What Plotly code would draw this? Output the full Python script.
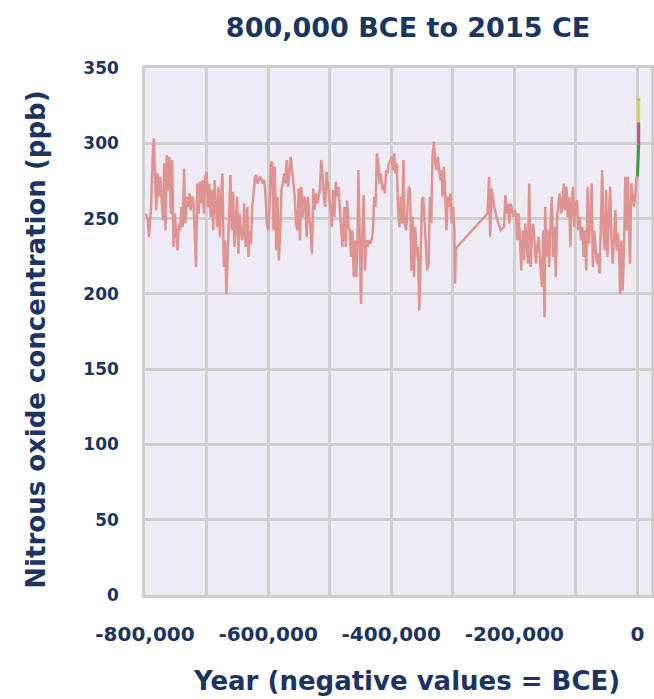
import plotly.graph_objects as go

# Ice-core nitrous oxide record (year, ppb)
ice_year = [
    -798900, -795700, -793500, -790300, -787100, -785500, -783900, -781700, -779600, -777400,
    -775300, -773100, -770900, -768800, -766600, -764500, -762300, -760200, -758000, -755900,
    -753700, -751600, -749400, -747300, -745100, -743000, -740800, -738700, -736500, -734400,
    -732200, -730100, -727900, -725800, -723600, -721500, -719300, -717100, -715000, -712800,
    -710700, -708500, -706400, -704200, -702100, -699900, -697800, -695600, -693500, -691300,
    -689200, -687000, -684900, -682700, -680600, -678400, -676300, -674100, -672000, -669800,
    -667700, -665500, -663300, -661200, -659000, -656900, -654700, -652600, -650400, -648300,
    -646100, -644000, -641800, -639700, -639100, -636400, -633700, -632100, -630000, -627800,
    -625700, -623000, -621400, -619200, -617100, -614900, -612700, -610600, -608400, -606300,
    -604100, -602000, -599800, -597700, -595500, -593400, -591200, -589100, -586900, -584800,
    -582600, -580500, -578300, -576200, -574000, -571900, -569700, -567600, -565400, -563300,
    -561100, -559000, -556800, -554600, -552500, -550300, -548200, -546000, -543900, -541700,
    -539600, -537400, -535300, -533100, -531000, -528800, -526700, -524500, -522400, -520200,
    -518100, -515900, -513800, -511600, -509500, -507300, -505100, -503000, -500800, -498700,
    -496500, -494400, -492200, -490100, -487900, -485800, -483600, -481500, -479300, -478100,
    -476000, -473800, -471700, -469500, -467400, -465200, -463100, -460900, -458800, -456600,
    -454500, -453400, -451200, -449100, -446900, -444800, -442600, -440500, -438300, -436200,
    -434000, -431900, -429700, -427600, -425400, -423300, -421100, -419000, -416800, -414700,
    -412500, -410400, -408200, -406100, -403900, -401800, -399600, -397400, -395300, -393100,
    -391000, -388800, -386700, -384500, -382400, -380200, -378100, -375900, -373800, -371600,
    -369500, -367300, -365200, -363000, -360900, -358700, -356600, -354400, -352300, -350100,
    -348000, -345800, -343600, -341500, -339300, -337200, -335000, -332900, -330700, -328600,
    -326400, -324300, -322100, -320000, -317800, -316700, -314600, -312400, -310300, -308100,
    -306000, -303800, -301700, -299500, -297400, -296300, -295200, -293100, -243600, -240900,
    -239300, -237100, -235000, -232800, -227400, -222100, -216700, -214500, -212400, -210200,
    -208100, -205900, -203800, -201600, -199500, -197300, -195200, -193000, -190900, -188700,
    -186500, -184400, -182200, -180100, -177900, -175800, -173600, -171500, -169300, -167200,
    -165000, -162900, -160700, -158600, -156400, -155200, -153100, -150900, -149900, -147700,
    -145600, -143400, -141300, -139100, -137000, -134800, -132700, -130500, -128300, -126200,
    -124000, -121900, -119700, -117600, -115400, -113300, -111100, -109000, -106800, -104700,
    -102500, -100400, -98200, -96100, -93900, -91800, -89600, -87500, -85300, -83200,
    -81000, -78800, -76700, -74500, -72400, -70200, -68100, -65900, -63800, -61600,
    -59500, -57300, -55200, -53000, -50900, -48700, -46600, -44400, -42300, -40100,
    -38000, -35800, -33700, -31500, -29400, -28300, -26100, -24000, -21800, -19700,
    -17500, -15400, -14300, -12100, -10000, -7800, -5700, -3500, -1400, 0,
]
ice_ppb = [
    253.3, 250.0, 237.8, 255.6, 295.6, 303.3, 280.0, 255.6, 280.0, 264.5,
    277.8, 257.8, 248.9, 286.7, 242.2, 292.2, 268.9, 291.1, 253.3, 288.9,
    231.1, 253.3, 242.2, 228.9, 246.7, 242.2, 257.8, 244.5, 283.3, 246.7,
    264.5, 257.8, 266.7, 255.6, 264.5, 262.2, 242.2, 217.8, 273.3, 253.3,
    274.5, 260.0, 275.6, 253.3, 277.8, 281.1, 257.8, 273.3, 251.1, 268.9,
    242.2, 275.6, 257.8, 244.5, 271.1, 237.8, 264.5, 280.0, 217.8, 235.6,
    200.0, 224.5, 257.8, 278.9, 242.2, 267.8, 231.1, 251.1, 264.5, 226.7,
    253.3, 242.2, 235.6, 246.7, 260.0, 231.1, 257.8, 224.5, 242.2, 233.3,
    257.8, 268.9, 277.8, 278.9, 273.3, 275.6, 277.8, 275.6, 273.3, 275.6,
    264.5, 246.7, 242.2, 257.8, 286.7, 287.8, 242.2, 284.5, 228.9, 264.5,
    222.2, 240.0, 268.9, 273.3, 280.0, 273.3, 288.9, 271.1, 280.0, 291.1,
    282.2, 273.3, 264.5, 246.7, 242.2, 270.0, 235.6, 271.1, 251.1, 264.5,
    262.2, 237.8, 264.5, 251.1, 242.2, 226.7, 270.0, 255.6, 266.7, 260.0,
    264.5, 268.9, 288.9, 280.0, 264.5, 257.8, 281.1, 274.5, 264.5, 255.6,
    244.3, 268.9, 251.1, 274.5, 264.5, 271.1, 257.8, 246.7, 231.1, 242.2,
    257.8, 231.1, 262.2, 244.5, 242.2, 224.5, 242.2, 211.1, 235.6, 211.1,
    242.2, 282.2, 228.9, 193.3, 242.2, 265.6, 215.6, 235.6, 231.1, 235.6,
    233.4, 235.6, 242.2, 264.5, 257.8, 293.3, 286.7, 273.3, 280.0, 268.9,
    273.3, 266.7, 282.2, 280.0, 286.7, 287.8, 291.1, 282.2, 293.3, 280.0,
    286.7, 255.6, 244.5, 264.5, 246.7, 288.9, 246.7, 242.2, 255.6, 271.1,
    268.9, 215.6, 251.1, 211.1, 244.5, 224.5, 231.1, 188.9, 220.0, 262.2,
    264.5, 242.2, 231.1, 215.6, 220.0, 264.5, 246.7, 291.1, 301.1, 286.7,
    282.2, 291.1, 284.5, 275.6, 282.2, 264.5, 284.5, 268.9, 242.2, 264.5,
    257.8, 266.7, 246.7, 257.8, 242.2, 206.7, 228.9, 231.1, 253.3, 277.8,
    237.8, 270.0, 264.5, 257.8, 248.9, 242.2, 244.5, 265.6, 253.3, 260.0,
    246.7, 260.0, 255.6, 251.1, 255.6, 253.3, 235.6, 253.3, 235.6, 215.6,
    242.2, 222.2, 246.7, 235.6, 220.0, 273.3, 217.8, 237.8, 246.7, 235.6,
    220.0, 231.1, 237.8, 224.5, 211.1, 204.5, 242.2, 184.5, 257.8, 224.5,
    242.2, 217.8, 246.7, 264.5, 224.5, 244.5, 211.1, 251.1, 260.0, 266.7,
    253.3, 257.8, 273.3, 255.6, 271.1, 251.1, 264.5, 231.1, 260.0, 271.1,
    244.5, 260.0, 262.2, 242.2, 251.1, 235.6, 244.5, 224.5, 242.2, 215.6,
    271.1, 233.3, 246.7, 273.3, 217.8, 242.2, 231.1, 220.0, 226.7, 213.4,
    244.5, 282.2, 240.0, 228.9, 268.9, 224.5, 248.9, 271.1, 237.8, 220.0,
    237.8, 255.6, 228.9, 240.0, 222.2, 200.0, 235.6, 202.2, 231.1, 277.8,
    242.2, 277.8, 253.3, 220.0, 273.3, 266.7, 257.8, 266.7, 277.8, 275.6,
]

# Recent instrumental / firn records (year, ppb)
rec_a_year = [1, 1990]
rec_a_ppb = [278, 299]
rec_b_year = [1990, 2004]
rec_b_ppb = [299, 314]
rec_c_year = [2004, 2014]
rec_c_ppb = [314, 328]
rec_d_year = [2014, 2015]
rec_d_ppb = [328, 330]

x_ticks = [-800000, -700000, -600000, -500000, -400000, -300000, -200000, -100000, 0]
x_labels = ["-800,000", "", "-600,000", "", "-400,000", "", "-200,000", "", "0"]
y_ticks = [0, 50, 100, 150, 200, 250, 300, 350]

NAVY = "#1b3462"
GRID = "#cfcfcf"
FONT = "DejaVu Sans"

fig = go.Figure()
fig.add_trace(go.Scatter(x=ice_year, y=ice_ppb, mode="lines",
                         line=dict(color="#e09492", width=2.5), hoverinfo="skip"))
for xs, ys, col in [(rec_a_year, rec_a_ppb, "#3d9a3d"),
                    (rec_b_year, rec_b_ppb, "#b5578c"),
                    (rec_c_year, rec_c_ppb, "#c9dc3a"),
                    (rec_d_year, rec_d_ppb, "#f0a838")]:
    fig.add_trace(go.Scatter(x=xs, y=ys, mode="lines",
                             line=dict(color=col, width=3), hoverinfo="skip"))

fig.update_layout(
    width=654, height=699,
    margin=dict(l=145, r=0, t=68, b=104),
    paper_bgcolor="white", plot_bgcolor="#eeebf5",
    showlegend=False,
    title=dict(text="800,000 BCE to 2015 CE", x=408 / 654, xanchor="center",
               y=1 - 28 / 699, yanchor="middle", yref="container",
               font=dict(family=FONT, size=27, color=NAVY, weight="bold")),
    xaxis=dict(range=[-800000, 22000], tickmode="array", tickvals=x_ticks, ticktext=x_labels,
               showgrid=True, gridcolor=GRID, gridwidth=2.5, zeroline=False,
               showline=True, linecolor=GRID, linewidth=2.5, mirror=True,
               ticks="", ticklabelstandoff=19,
               tickfont=dict(family=FONT, size=20, color=NAVY, weight="bold")),
    yaxis=dict(range=[0, 350], tickmode="array", tickvals=y_ticks,
               showgrid=True, gridcolor=GRID, gridwidth=2.5, zeroline=False,
               showline=True, linecolor=GRID, linewidth=2.5, mirror=True,
               ticks="", ticklabelstandoff=20,
               tickfont=dict(family=FONT, size=17, color=NAVY, weight="bold")),
    annotations=[
        dict(text="Year (negative values = BCE)", xref="paper", yref="paper",
             x=(408 - 145) / 509, y=(595 - 681) / 527, xanchor="center", yanchor="middle",
             showarrow=False, font=dict(family=FONT, size=26, color=NAVY, weight="bold")),
        dict(text="Nitrous oxide concentration (ppb)", xref="paper", yref="paper",
             x=(35 - 145) / 509, y=(595 - 340) / 527, xanchor="center", yanchor="middle",
             textangle=-90, showarrow=False,
             font=dict(family=FONT, size=26, color=NAVY, weight="bold")),
    ],
)

fig.write_html("out.html")
